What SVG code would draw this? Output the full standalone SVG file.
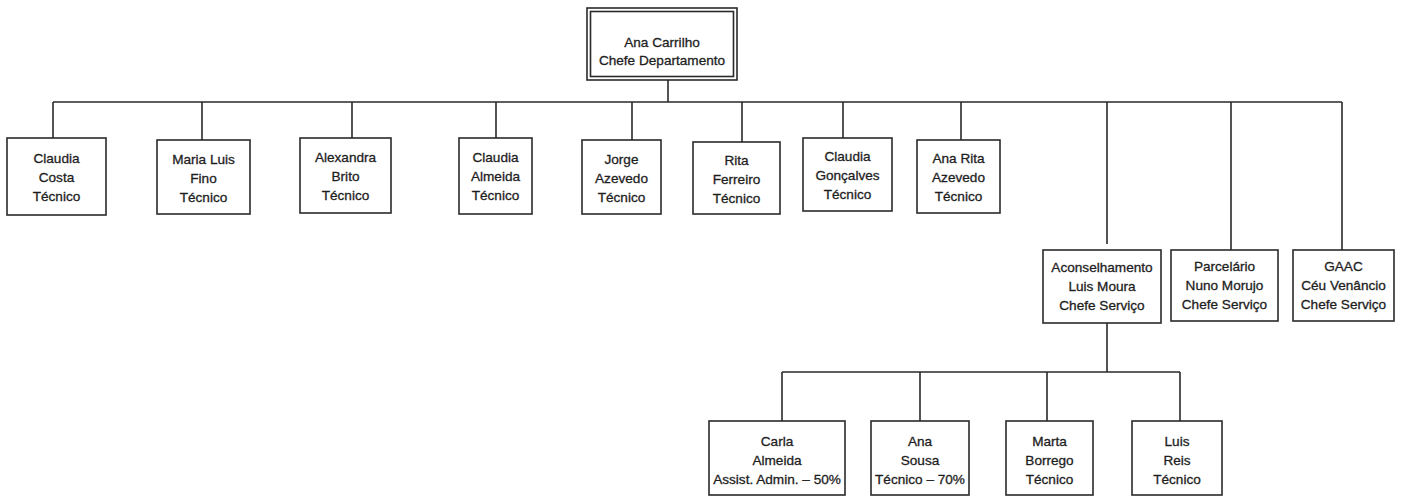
<svg xmlns="http://www.w3.org/2000/svg" width="1407" height="497" viewBox="0 0 1407 497">
<style>
.bx{fill:#fff;stroke:#2a2a2a;stroke-width:1.6}
.ln{fill:none;stroke:#2a2a2a;stroke-width:1.6}
text{font-family:"Liberation Sans",Arial,sans-serif;font-size:13.6px;fill:#1e1e1e;stroke:#1e1e1e;stroke-width:0.3;text-anchor:middle}
</style>
<rect width="1407" height="497" fill="#fff"/>
<g id="connectors" class="ln">
<path d="M668 80V102M53 102H1342"/>
<path d="M53 102V138M202 102V140M352 102V138M496 102V138M632 102V140M742 102V142M843 102V138M961 102V140"/>
<path d="M1107 102V244M1231 102V250M1342 102V250"/>
<path d="M1107 323V372M782 372H1180M782 372V421M920 372V421M1047 372V421M1180 372V421"/>
</g>
<g id="n-ana-carrilho">
<rect class="bx" x="587" y="8" width="150" height="72"/>
<rect class="bx" x="590.5" y="11.5" width="143" height="65"/>
<text x="662" y="47">Ana Carrilho</text>
<text x="662" y="65">Chefe Departamento</text>
</g>
<g id="n-claudia-costa">
<rect class="bx" x="7" y="138" width="99" height="77"/>
<text x="56.5" y="163">Claudia</text><text x="56.5" y="182">Costa</text><text x="56.5" y="201">Técnico</text>
</g>
<g id="n-maria-luis-fino">
<rect class="bx" x="157" y="140" width="93" height="74"/>
<text x="203.5" y="164">Maria Luis</text><text x="203.5" y="183">Fino</text><text x="203.5" y="202">Técnico</text>
</g>
<g id="n-alexandra-brito">
<rect class="bx" x="300" y="138" width="91" height="75"/>
<text x="345.5" y="162">Alexandra</text><text x="345.5" y="181">Brito</text><text x="345.5" y="200">Técnico</text>
</g>
<g id="n-claudia-almeida">
<rect class="bx" x="459" y="138" width="73" height="76"/>
<text x="495.5" y="162">Claudia</text><text x="495.5" y="181">Almeida</text><text x="495.5" y="200">Técnico</text>
</g>
<g id="n-jorge-azevedo">
<rect class="bx" x="582" y="140" width="79" height="74"/>
<text x="621.5" y="164">Jorge</text><text x="621.5" y="183">Azevedo</text><text x="621.5" y="202">Técnico</text>
</g>
<g id="n-rita-ferreiro">
<rect class="bx" x="693" y="142" width="87" height="72"/>
<text x="736.5" y="165">Rita</text><text x="736.5" y="184">Ferreiro</text><text x="736.5" y="203">Técnico</text>
</g>
<g id="n-claudia-goncalves">
<rect class="bx" x="803" y="138" width="89" height="73"/>
<text x="847.5" y="161">Claudia</text><text x="847.5" y="180">Gonçalves</text><text x="847.5" y="199">Técnico</text>
</g>
<g id="n-ana-rita-azevedo">
<rect class="bx" x="917" y="140" width="83" height="73"/>
<text x="958.5" y="163">Ana Rita</text><text x="958.5" y="182">Azevedo</text><text x="958.5" y="201">Técnico</text>
</g>
<g id="n-aconselhamento">
<rect class="bx" x="1043" y="250" width="118" height="73"/>
<text x="1102" y="272">Aconselhamento</text><text x="1102" y="291">Luis Moura</text><text x="1102" y="310">Chefe Serviço</text>
</g>
<g id="n-parcelario">
<rect class="bx" x="1171" y="250" width="107" height="71"/>
<text x="1224.5" y="271">Parcelário</text><text x="1224.5" y="290">Nuno Morujo</text><text x="1224.5" y="309">Chefe Serviço</text>
</g>
<g id="n-gaac">
<rect class="bx" x="1293" y="250" width="101" height="71"/>
<text x="1343.5" y="271">GAAC</text><text x="1343.5" y="290">Céu Venâncio</text><text x="1343.5" y="309">Chefe Serviço</text>
</g>
<g id="n-carla-almeida">
<rect class="bx" x="709" y="421" width="136" height="74"/>
<text x="777" y="446">Carla</text><text x="777" y="465">Almeida</text><text x="777" y="484">Assist. Admin. – 50%</text>
</g>
<g id="n-ana-sousa">
<rect class="bx" x="871" y="421" width="98" height="74"/>
<text x="920" y="446">Ana</text><text x="920" y="465">Sousa</text><text x="920" y="484">Técnico – 70%</text>
</g>
<g id="n-marta-borrego">
<rect class="bx" x="1006" y="421" width="87" height="74"/>
<text x="1049.5" y="446">Marta</text><text x="1049.5" y="465">Borrego</text><text x="1049.5" y="484">Técnico</text>
</g>
<g id="n-luis-reis">
<rect class="bx" x="1132" y="421" width="90" height="74"/>
<text x="1177" y="446">Luis</text><text x="1177" y="465">Reis</text><text x="1177" y="484">Técnico</text>
</g>
</svg>
